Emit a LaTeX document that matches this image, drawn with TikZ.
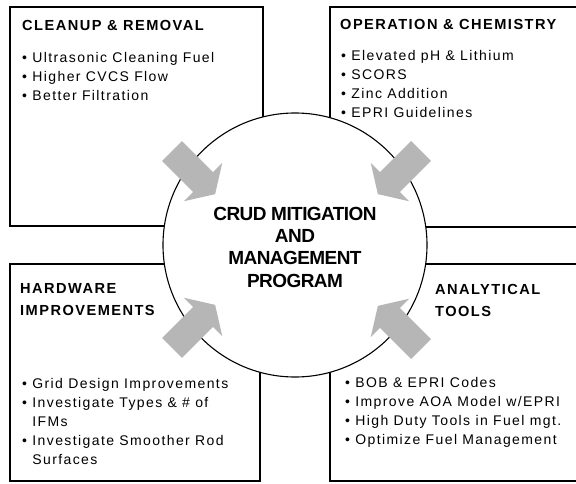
\documentclass[tikz,border=0pt]{standalone}
\usepackage{fontspec}
\setmainfont{Liberation Sans}
\newfontfamily\listfont[LetterSpace=10]{Liberation Sans}
\newfontfamily\hubfont[LetterSpace=-3]{Liberation Sans}
\definecolor{arrowgray}{RGB}{182,182,182}
\newcommand{\itm}{\textbullet\ }

% base anchors of the text nodes sit on their last line
\tikzset{
  panel/.style={draw, line width=1.2pt},
  head/.style={anchor=base west, inner sep=0pt, align=left,
    font=\listfont\bfseries\fontsize{14.6}{22}\selectfont},
  items/.style={anchor=base west, inner sep=0pt, align=left,
    font=\listfont\fontsize{14}{19}\selectfont},
  hub/.style={circle, draw, fill=white, line width=1.1pt, minimum size=264pt},
  hubtext/.style={anchor=base, inner sep=0pt, align=center,
    font=\hubfont\bfseries\fontsize{19}{22.3}\selectfont},
  inarrow/.pic={
    \fill[arrowgray] (0,-14) -- (44,-14) -- (44,-27) -- (61,0) -- (44,27)
      -- (44,14) -- (0,14) -- cycle;
  }
}

\begin{document}
\begin{tikzpicture}[x=1pt, y=-1pt]
  \useasboundingbox (0,0) rectangle (576,484);
  \clip (0,0) rectangle (576,484);
  \fill[white] (0,0) rectangle (576,484);

  % Four panels (right ones run off the page)
  \draw[panel] (10,7) rectangle (263,226);
  \draw[panel] (330,7) rectangle (600,227);
  \draw[panel] (10,264) rectangle (260,481);
  \draw[panel] (330,264) rectangle (600,481);

  % Central program
  \node[hub] (hub) at (295,245) {};
  \node[hubtext] (hubText) at (295,287) {CRUD MITIGATION\\AND\\MANAGEMENT\\PROGRAM};

  % Arrows pointing into the circle
  \pic[rotate=-45] at (172,151) {inarrow};
  \pic[rotate=-135] at (421,151) {inarrow};
  \pic[rotate=45] at (172,348) {inarrow};
  \pic[rotate=135] at (421,349) {inarrow};

  % Top left
  \node[head] (cleanHead) at (22,31) {CLEANUP \& REMOVAL};
  \node[items] (cleanList) at (22,101) {\itm Ultrasonic Cleaning Fuel\\
    \itm Higher CVCS Flow\\ \itm Better Filtration};

  % Top right
  \node[head] (chemHead) at (340,30) {OPERATION \& CHEMISTRY};
  \node[items] (chemList) at (341,118) {\itm Elevated pH \& Lithium\\ \itm SCORS\\
    \itm Zinc Addition\\ \itm EPRI Guidelines};

  % Bottom left
  \node[head] (hwHead) at (20,315) {HARDWARE\\IMPROVEMENTS};
  \node[items] (hwList) at (22,464) {\itm Grid Design Improvements\\
    \itm Investigate Types \& \# of\\ \hphantom{\itm}IFMs\\
    \itm Investigate Smoother Rod\\ \hphantom{\itm}Surfaces};

  % Bottom right
  \node[head] (toolHead) at (435,316) {ANALYTICAL\\TOOLS};
  \node[items] (toolList) at (345,444) {\itm BOB \& EPRI Codes\\
    \itm Improve AOA Model w/EPRI\\ \itm High Duty Tools in Fuel mgt.\\
    \itm Optimize Fuel Management};
\end{tikzpicture}
\end{document}
